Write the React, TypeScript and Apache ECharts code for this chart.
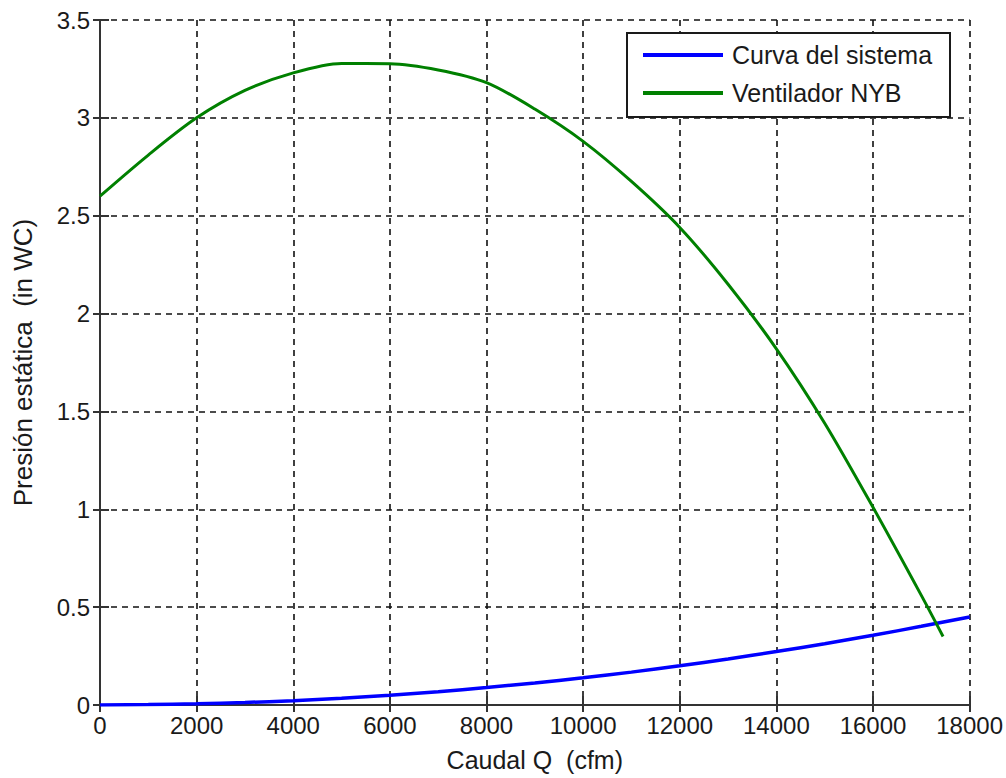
import React, { useEffect, useRef } from "react";
import * as echarts from "echarts";

const xTitle = "Caudal Q  (cfm)";
const yTitle = "Presión estática  (in WC)";
const systemName = "Curva del sistema";
const fanName = "Ventilador NYB";

const systemQ = [0, 1000, 2000, 3000, 4000, 5000, 6000, 7000, 8000, 9000, 10000, 11000, 12000, 13000, 14000, 15000, 16000, 17000, 18000];
const systemP = [0, 0.002, 0.006, 0.013, 0.022, 0.035, 0.05, 0.068, 0.089, 0.113, 0.139, 0.168, 0.2, 0.235, 0.273, 0.313, 0.356, 0.402, 0.45];

const fanQ = [0, 1000, 2000, 3000, 4000, 5000, 6000, 7000, 8000, 9000, 10000, 11000, 12000, 13000, 14000, 15000, 16000, 17000, 17450];
const fanP = [2.6, 2.81, 3.0, 3.14, 3.23, 3.278, 3.277, 3.245, 3.18, 3.045, 2.88, 2.675, 2.44, 2.15, 1.82, 1.44, 1.01, 0.56, 0.35];

const FONT = "'Liberation Sans', Arial, sans-serif";
const INK = "#1a1a1a";

export default function App() {
  const ref = useRef<HTMLDivElement>(null);
  useEffect(() => {
    document.body.style.margin = "0";
    const chart = echarts.init(ref.current!, null, { renderer: "svg" });
    const grid = { left: 100, top: 20, width: 870, height: 685 };
    const split = { show: true, lineStyle: { color: "#111", width: 1.6, type: [6, 5] as any } };
    chart.setOption({
      animation: false,
      backgroundColor: "#ffffff",
      textStyle: { fontFamily: FONT },
      grid: { ...grid, containLabel: false },
      xAxis: [
        {
          type: "value",
          min: 0,
          max: 18000,
          interval: 2000,
          name: xTitle,
          nameLocation: "middle",
          nameGap: 42,
          nameTextStyle: { fontSize: 25, color: INK, fontFamily: FONT },
          axisLine: { show: true, onZero: false, lineStyle: { color: "#333", width: 2 } },
          axisTick: { show: true, inside: true, length: 9, lineStyle: { color: "#333", width: 2 } },
          axisLabel: { fontSize: 24, color: INK, margin: 8, fontFamily: FONT, formatter: (v: number) => String(v) },
          splitLine: split,
        },
        {
          type: "value",
          position: "top",
          min: 0,
          max: 18000,
          interval: 2000,
          axisLine: { show: false },
          axisTick: { show: true, inside: true, length: 7, lineStyle: { color: "#333", width: 2 } },
          axisLabel: { show: false },
          splitLine: { show: false },
        },
      ],
      yAxis: [
        {
          type: "value",
          min: 0,
          max: 3.5,
          interval: 0.5,
          name: yTitle,
          nameLocation: "middle",
          nameRotate: 90,
          nameGap: 64,
          nameTextStyle: { fontSize: 26, color: INK, fontFamily: FONT },
          axisLine: { show: true, onZero: false, lineStyle: { color: "#333", width: 2 } },
          axisTick: { show: true, inside: true, length: 9, lineStyle: { color: "#333", width: 2 } },
          axisLabel: { fontSize: 24, color: INK, margin: 10, fontFamily: FONT, formatter: (v: number) => String(v) },
          splitLine: split,
        },
        {
          type: "value",
          position: "right",
          min: 0,
          max: 3.5,
          interval: 0.5,
          axisLine: { show: false },
          axisTick: { show: true, inside: true, length: 7, lineStyle: { color: "#333", width: 2 } },
          axisLabel: { show: false },
          splitLine: { show: false },
        },
      ],
      legend: {
        orient: "vertical",
        left: 635,
        top: 41,
        z: 6,
        icon: "rect",
        itemWidth: 80,
        itemHeight: 4,
        itemGap: 10,
        padding: [0, 0, 0, 8],
        textStyle: { fontSize: 25, color: INK, fontFamily: FONT, lineHeight: 28, padding: [0, 0, 0, 4] },
        data: [systemName, fanName],
      },
      graphic: [
        {
          type: "rect",
          z: 4,
          shape: { x: 627, y: 33, width: 323, height: 84 },
          style: { fill: "#ffffff", stroke: "#1a1a1a", lineWidth: 2 },
        },
      ],
      series: [
        {
          name: systemName,
          type: "line",
          xAxisIndex: 0,
          yAxisIndex: 0,
          showSymbol: false,
          symbol: "none",
          smooth: 0.3,
          z: 3,
          lineStyle: { color: "#0000ff", width: 3.5 },
          itemStyle: { color: "#0000ff" },
          data: systemQ.map((q, i) => [q, systemP[i]]),
        },
        {
          name: fanName,
          type: "line",
          xAxisIndex: 0,
          yAxisIndex: 0,
          showSymbol: false,
          symbol: "none",
          smooth: 0.3,
          z: 3,
          lineStyle: { color: "#008000", width: 3 },
          itemStyle: { color: "#008000" },
          data: fanQ.map((q, i) => [q, fanP[i]]),
        },
      ],
    });
    return () => chart.dispose();
  }, []);
  return <div ref={ref} style={{ width: 1006, height: 778 }} />;
}
